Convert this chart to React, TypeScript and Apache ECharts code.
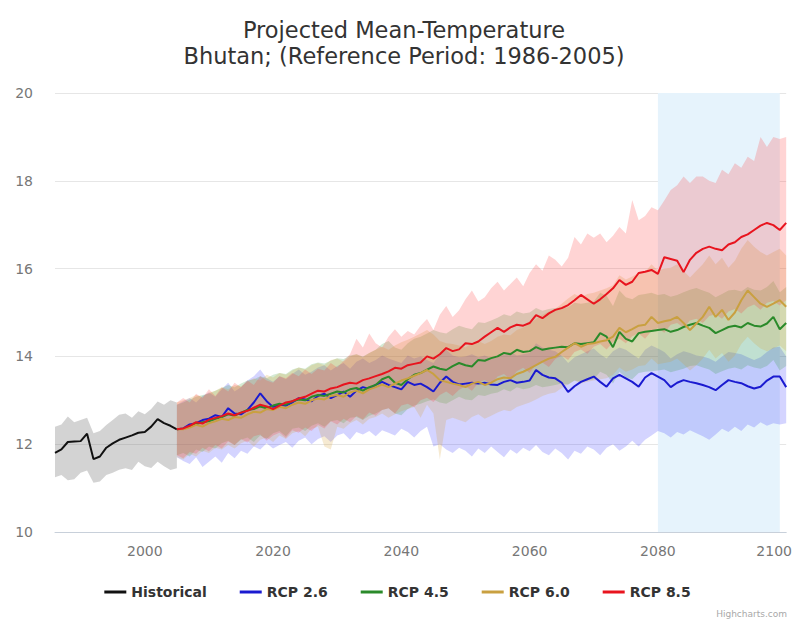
import { useEffect, useRef } from "react";
import * as echarts from "echarts";

// ---------- categories ----------
const FIRST_YEAR = 1986;
const LAST_YEAR = 2100;
const years: string[] = [];
for (let y = FIRST_YEAR; y <= LAST_YEAR; y++) years.push(String(y));

const yTicks = { min: 10, max: 20, step: 2 };
const plotBandYears = ["2080", "2099"];

// ---------- historical 1986-2005 ----------
const HIST_START = 1986;
const historical = [11.80, 11.88, 12.05, 12.06, 12.07, 12.24, 11.66, 11.72, 11.92, 12.02, 12.10, 12.15, 12.20, 12.26, 12.28, 12.40, 12.57, 12.48, 12.42, 12.34];
const historicalLow = [11.25, 11.30, 11.18, 11.20, 11.35, 11.40, 11.12, 11.15, 11.30, 11.35, 11.42, 11.45, 11.41, 11.60, 11.50, 11.46, 11.60, 11.50, 11.41, 11.45];
const historicalHigh = [12.40, 12.45, 12.63, 12.50, 12.55, 12.60, 12.25, 12.30, 12.44, 12.55, 12.67, 12.70, 12.60, 12.75, 12.68, 12.80, 12.97, 12.90, 13.00, 12.95];

// ---------- projections 2005-2100 ----------
const PROJ_START = 2005;

const rcp26 = [
  12.34, 12.36, 12.45, 12.48, 12.55, 12.58, 12.66, 12.62, 12.82, 12.70,
  12.68, 12.78, 12.95, 13.16, 12.98, 12.85, 12.90, 12.88, 12.95, 13.05,
  13.02, 12.98, 13.10, 13.15, 13.05, 13.12, 13.20, 13.08, 13.22, 13.30,
  13.26, 13.35, 13.42, 13.35, 13.30, 13.25, 13.42, 13.35, 13.38, 13.30,
  13.20, 13.40, 13.54, 13.42, 13.36, 13.38, 13.40, 13.38, 13.40, 13.36,
  13.35, 13.42, 13.46, 13.40, 13.42, 13.45, 13.69, 13.58, 13.52, 13.50,
  13.40, 13.19, 13.32, 13.42, 13.48, 13.54, 13.42, 13.31, 13.50, 13.58,
  13.50, 13.42, 13.31, 13.52, 13.62, 13.54, 13.46, 13.30, 13.40, 13.46,
  13.42, 13.39, 13.35, 13.30, 13.23, 13.35, 13.46, 13.42, 13.39, 13.32,
  13.27, 13.31, 13.45, 13.54, 13.54, 13.30,
];
const rcp26Low = [
  11.70, 11.62, 11.55, 11.70, 11.48, 11.60, 11.72, 11.58, 11.80, 11.68,
  11.85, 11.78, 11.95, 11.88, 12.02, 11.90, 11.98, 12.05, 11.92, 12.08,
  12.15, 12.00, 12.12, 12.18, 12.05, 12.20, 12.25, 12.10, 12.28, 12.22,
  12.30, 12.18, 12.32, 12.26, 12.20, 12.35, 12.28, 12.15, 12.30, 12.40,
  11.95, 12.00, 11.88, 11.80, 11.92, 11.85, 11.72, 11.90, 11.80, 11.95,
  11.82, 11.70, 11.88, 11.78, 11.92, 11.84, 11.98, 11.82, 11.75, 11.90,
  11.80, 11.65, 11.85, 11.78, 11.95, 11.88, 11.75, 11.92, 12.00, 11.85,
  11.95, 12.08, 11.95, 12.10, 12.20, 12.30, 12.25, 12.15, 12.28, 12.22,
  12.32, 12.25, 12.18, 12.10, 12.22, 12.35, 12.28, 12.40, 12.30, 12.45,
  12.38, 12.50, 12.42, 12.48, 12.45, 12.48,
];
const rcp26High = [
  12.90, 12.98, 13.05, 12.95, 13.10, 13.18, 13.08, 13.25, 13.40, 13.20,
  13.30, 13.45, 13.55, 13.70, 13.50, 13.42, 13.55, 13.48, 13.60, 13.70,
  13.58, 13.65, 13.75, 13.80, 13.68, 13.78, 13.85, 13.72, 13.88, 13.95,
  13.85, 13.92, 14.02, 13.95, 13.90, 13.85, 14.02, 13.95, 14.00, 13.92,
  13.85, 14.05, 14.15, 14.02, 13.98, 14.00, 14.05, 13.98, 14.02, 13.96,
  13.98, 14.05, 14.10, 14.02, 14.05, 14.08, 14.30, 14.20, 14.15, 14.12,
  14.02, 13.85, 13.98, 14.05, 14.12, 14.18, 14.05, 13.95, 14.12, 14.20,
  14.15, 14.05, 13.95, 14.15, 14.25, 14.18, 14.10, 13.95, 14.05, 14.12,
  14.08, 14.02, 14.00, 13.95, 13.88, 14.00, 14.10, 14.08, 14.05, 13.98,
  13.92, 13.98, 14.10, 14.20, 14.22, 14.00,
];

const rcp45 = [
  12.34, 12.35, 12.40, 12.46, 12.50, 12.52, 12.58, 12.62, 12.68, 12.65,
  12.72, 12.78, 12.80, 12.86, 12.82, 12.88, 12.92, 12.90, 12.98, 13.02,
  13.00, 13.08, 13.12, 13.10, 13.15, 13.20, 13.18, 13.25, 13.28, 13.22,
  13.30, 13.35, 13.48, 13.54, 13.40, 13.35, 13.48, 13.58, 13.62, 13.70,
  13.77, 13.72, 13.69, 13.78, 13.85, 13.80, 13.77, 13.92, 13.90, 13.96,
  14.00, 14.08, 14.05, 14.15, 14.10, 14.12, 14.21, 14.15, 14.18, 14.20,
  14.22, 14.21, 14.30, 14.28, 14.30, 14.32, 14.53, 14.45, 14.21, 14.56,
  14.40, 14.34, 14.53, 14.56, 14.58, 14.60, 14.62, 14.56, 14.60, 14.67,
  14.72, 14.76, 14.70, 14.65, 14.53, 14.60, 14.67, 14.70, 14.66, 14.76,
  14.70, 14.68, 14.75, 14.90, 14.62, 14.76,
];
const rcp45Low = [
  11.75, 11.80, 11.72, 11.88, 11.82, 11.95, 11.90, 12.02, 12.08, 11.98,
  12.10, 12.15, 12.05, 12.20, 12.12, 12.25, 12.30, 12.18, 12.35, 12.38,
  12.30, 12.42, 12.48, 12.40, 12.52, 12.55, 12.48, 12.60, 12.62, 12.55,
  12.65, 12.70, 12.78, 12.82, 12.70, 12.66, 12.80, 12.88, 12.92, 12.98,
  13.02, 12.95, 12.92, 13.00, 13.08, 13.02, 13.00, 13.12, 13.10, 13.15,
  13.18, 13.25, 13.20, 13.30, 13.25, 13.28, 13.35, 13.30, 13.32, 13.35,
  13.38, 13.36, 13.45, 13.42, 13.45, 13.48, 13.65, 13.58, 13.38, 13.65,
  13.52, 13.48, 13.62, 13.65, 13.66, 13.68, 13.70, 13.64, 13.68, 13.72,
  13.78, 13.80, 13.75, 13.70, 13.60, 13.66, 13.72, 13.75, 13.70, 13.80,
  13.75, 13.72, 13.78, 13.92, 13.68, 13.78,
];
const rcp45High = [
  12.90, 12.95, 13.02, 13.08, 13.12, 13.15, 13.22, 13.28, 13.35, 13.30,
  13.38, 13.45, 13.48, 13.55, 13.50, 13.58, 13.62, 13.60, 13.70, 13.75,
  13.72, 13.82, 13.86, 13.84, 13.90, 13.96, 13.94, 14.02, 14.05, 14.00,
  14.08, 14.15, 14.28, 14.35, 14.20, 14.15, 14.30, 14.40, 14.45, 14.52,
  14.60, 14.55, 14.52, 14.62, 14.70, 14.65, 14.62, 14.78, 14.76, 14.82,
  14.88, 14.96, 14.92, 15.02, 14.98, 15.00, 15.10, 15.04, 15.08, 15.10,
  15.12, 15.12, 15.22, 15.20, 15.22, 15.25, 15.45, 15.38, 15.15, 15.50,
  15.35, 15.30, 15.40, 15.42, 15.45, 15.40, 15.42, 15.36, 15.40, 15.46,
  15.52, 15.56, 15.50, 15.45, 15.35, 15.42, 15.50, 15.52, 15.48, 15.58,
  15.52, 15.50, 15.58, 15.72, 15.46, 15.58,
];

const rcp60 = [
  12.34, 12.34, 12.38, 12.44, 12.40, 12.48, 12.52, 12.58, 12.55, 12.62,
  12.60, 12.68, 12.74, 12.72, 12.80, 12.78, 12.85, 12.82, 12.90, 12.95,
  12.92, 13.00, 13.04, 13.02, 13.10, 13.12, 13.08, 13.18, 13.22, 13.16,
  13.25, 13.30, 13.36, 13.30, 13.38, 13.45, 13.50, 13.56, 13.62, 13.69,
  13.60, 13.46, 13.42, 13.38, 13.35, 13.30, 13.38, 13.42, 13.35, 13.40,
  13.48, 13.52, 13.50, 13.60, 13.65, 13.72, 13.80, 13.88, 13.95, 13.99,
  14.10, 14.20, 14.30, 14.22, 14.28, 14.30, 14.34, 14.37, 14.45, 14.65,
  14.55, 14.62, 14.70, 14.72, 14.90, 14.76, 14.80, 14.83, 14.90, 14.76,
  14.60, 14.75, 14.90, 15.13, 14.90, 15.06, 14.83, 15.00, 15.28, 15.50,
  15.35, 15.20, 15.13, 15.20, 15.28, 15.13,
];
const rcp60Low = [
  11.70, 11.65, 11.78, 11.72, 11.85, 11.80, 11.92, 11.88, 11.98, 11.90,
  12.02, 12.08, 11.95, 12.10, 12.15, 12.05, 12.20, 12.12, 12.25, 12.30,
  12.18, 12.35, 12.40, 11.95, 11.88, 12.40, 12.35, 12.48, 12.55, 12.45,
  12.58, 12.62, 12.70, 12.60, 12.68, 12.75, 12.80, 12.85, 12.60, 12.90,
  12.70, 11.65, 12.55, 12.60, 12.55, 12.50, 12.62, 12.68, 12.58, 12.65,
  12.72, 12.78, 12.75, 12.85, 12.90, 12.95, 13.02, 13.10, 13.15, 13.18,
  13.28, 13.36, 13.45, 13.38, 13.42, 13.45, 13.48, 13.50, 13.58, 13.75,
  13.65, 13.70, 13.78, 13.80, 13.95, 13.82, 13.85, 13.88, 13.95, 13.82,
  13.68, 13.80, 13.95, 14.15, 13.95, 14.08, 13.88, 14.02, 14.28, 14.45,
  14.30, 14.18, 14.12, 14.18, 14.25, 14.12,
];
const rcp60High = [
  12.95, 13.00, 13.05, 13.12, 13.08, 13.18, 13.22, 13.30, 13.25, 13.35,
  13.32, 13.42, 13.50, 13.45, 13.58, 13.52, 13.62, 13.58, 13.68, 13.75,
  13.70, 13.80, 13.85, 13.80, 13.92, 13.95, 13.88, 14.00, 14.05, 13.98,
  14.08, 14.15, 14.22, 14.15, 14.25, 14.32, 14.38, 14.45, 14.52, 14.60,
  14.50, 14.35, 14.30, 14.28, 14.25, 14.20, 14.30, 14.35, 14.28, 14.35,
  14.45, 14.50, 14.48, 14.60, 14.66, 14.75, 14.85, 14.95, 15.02, 15.08,
  15.20, 15.32, 15.42, 15.35, 15.42, 15.45, 15.50, 15.55, 15.62, 15.85,
  15.75, 15.82, 15.90, 15.92, 16.10, 15.95, 16.00, 16.02, 16.10, 15.95,
  15.80, 15.95, 16.10, 16.30, 16.10, 16.25, 16.02, 16.18, 16.45, 16.65,
  16.50, 16.38, 16.30, 16.38, 16.45, 16.30,
];

const rcp85 = [
  12.34, 12.36, 12.42, 12.50, 12.47, 12.56, 12.60, 12.64, 12.70, 12.66,
  12.72, 12.76, 12.83, 12.90, 12.86, 12.80, 12.88, 12.95, 12.98, 13.04,
  13.08, 13.15, 13.22, 13.20, 13.27, 13.30, 13.36, 13.40, 13.38, 13.46,
  13.50, 13.55, 13.60, 13.66, 13.74, 13.72, 13.80, 13.83, 13.86, 14.00,
  13.95, 14.05, 14.19, 14.12, 14.16, 14.30, 14.28, 14.34, 14.45, 14.55,
  14.65, 14.56, 14.66, 14.72, 14.70, 14.76, 14.94, 14.87, 14.98, 15.06,
  15.10, 15.17, 15.28, 15.40, 15.30, 15.20, 15.30, 15.42, 15.55, 15.74,
  15.63, 15.70, 15.90, 15.93, 15.97, 15.88, 16.26, 16.22, 16.18, 15.92,
  16.20, 16.36, 16.45, 16.50, 16.45, 16.42, 16.55, 16.60, 16.72, 16.78,
  16.88, 16.98, 17.04, 16.99, 16.88, 17.04,
];
const rcp85Low = [
  11.75, 11.68, 11.82, 11.78, 11.92, 11.84, 11.98, 11.90, 12.06, 11.98,
  12.12, 12.04, 12.18, 12.22, 12.08, 12.20, 12.26, 12.14, 12.32, 12.26,
  12.38, 12.30, 12.44, 12.36, 12.52, 12.45, 12.58, 12.50, 12.64, 12.56,
  12.72, 12.65, 12.78, 12.82, 12.70, 12.88, 12.92, 12.84, 13.00, 13.06,
  12.96, 13.12, 13.20, 13.10, 13.24, 13.32, 13.22, 13.40, 13.46, 13.36,
  13.54, 13.60, 13.48, 13.66, 13.74, 13.62, 13.82, 13.86, 13.76, 13.94,
  14.02, 13.92, 14.10, 14.16, 14.06, 14.22, 14.28, 14.16, 14.32, 14.40,
  14.30, 14.46, 14.52, 14.40, 14.58, 14.64, 14.54, 14.72, 14.76, 14.66,
  14.82, 14.86, 14.76, 14.92, 14.96, 14.86, 15.02, 15.08, 14.98, 15.12,
  15.18, 15.06, 15.22, 15.26, 15.16, 15.28,
];
const rcp85High = [
  12.95, 13.05, 12.95, 13.15, 13.05, 13.25, 13.10, 13.30, 13.20, 13.40,
  13.30, 13.45, 13.35, 13.55, 13.45, 13.40, 13.55, 13.50, 13.62, 13.55,
  13.70, 13.60, 13.72, 13.68, 13.85, 13.75, 13.90, 14.05, 14.40, 14.20,
  14.52, 14.30, 14.20, 14.45, 14.62, 14.45, 14.58, 14.50, 14.70, 14.85,
  14.60, 14.95, 15.15, 14.90, 15.05, 15.30, 15.50, 15.25, 15.35, 15.55,
  15.70, 15.50, 15.65, 15.80, 15.60, 15.90, 16.10, 15.95, 16.30, 16.20,
  16.05, 16.25, 16.72, 16.55, 16.80, 16.70, 16.80, 16.60, 16.75, 16.95,
  16.80, 17.56, 17.10, 17.20, 17.40, 17.33, 17.55, 17.79, 17.90, 18.10,
  17.95, 18.10, 18.10, 18.00, 17.95, 18.25, 18.15, 18.40, 18.30, 18.55,
  18.45, 19.00, 18.77, 19.00, 18.95, 19.00,
];

// ---------- helpers ----------
const place = (start: number, vals: number[]) =>
  years.map((y) => {
    const i = Number(y) - start;
    return i >= 0 && i < vals.length ? vals[i] : null;
  });

const FONT = "DejaVu Sans";

function bandSeries(id: string, start: number, low: number[], high: number[], color: string) {
  const diff = high.map((h, i) => +(h - low[i]).toFixed(3));
  return [
    {
      type: "line",
      name: id + "-low",
      stack: id,
      data: place(start, low),
      symbol: "none",
      lineStyle: { opacity: 0, width: 0 },
      silent: true,
      emphasis: { disabled: true },
      z: 2,
    },
    {
      type: "line",
      name: id + "-range",
      stack: id,
      data: place(start, diff),
      symbol: "none",
      lineStyle: { opacity: 0, width: 0 },
      areaStyle: { color, opacity: 1 },
      silent: true,
      emphasis: { disabled: true },
      z: 2,
    },
  ];
}

function lineSeries(name: string, start: number, vals: number[], color: string, extra: any = {}) {
  return {
    type: "line",
    name,
    data: place(start, vals),
    symbol: "none",
    color,
    lineStyle: { color, width: 2 },
    itemStyle: { color },
    emphasis: { disabled: true },
    z: 3,
    ...extra,
  };
}

export default function App() {
  const ref = useRef<HTMLDivElement>(null);

  useEffect(() => {
    if (!ref.current) return;
    const chart = echarts.init(ref.current, null, { renderer: "svg" });

    const option: any = {
      animation: false,
      backgroundColor: "#ffffff",
      textStyle: { fontFamily: FONT },
      title: [
        {
          text: "Projected Mean-Temperature\nBhutan; (Reference Period: 1986-2005)",
          left: 399,
          top: 12,
          textAlign: "center",
          textStyle: {
            fontFamily: FONT,
            fontSize: 22.5,
            fontWeight: "normal",
            color: "#333333",
            lineHeight: 26,
          },
        },
        {
          text: "Highcharts.com",
          right: 3,
          bottom: 1,
          textStyle: { fontFamily: FONT, fontSize: 9, fontWeight: "normal", color: "#a8a8a8" },
        },
      ],
      legend: {
        data: ["Historical", "RCP 2.6", "RCP 4.5", "RCP 6.0", "RCP 8.5"],
        left: "center",
        top: 580,
        icon: "rect",
        itemWidth: 22,
        itemHeight: 3,
        itemGap: 33,
        textStyle: { fontFamily: FONT, fontSize: 14, fontWeight: "bold", color: "#333333" },
      },
      grid: { left: 55, right: 5, top: 93, bottom: 92 },
      xAxis: {
        type: "category",
        data: years,
        boundaryGap: false,
        axisLine: { lineStyle: { color: "#c8d0da", width: 1 } },
        axisTick: { show: false },
        splitLine: { show: false },
        axisLabel: {
          interval: (_i: number, v: string) => Number(v) % 20 === 0,
          color: "#777777",
          fontSize: 14,
          margin: 12,
          formatter: (v: string) => (v === LAST_YEAR.toString() ? "{last|" + v + "}" : v),
          rich: {
            last: { color: "#777777", fontSize: 14, fontFamily: FONT, padding: [0, 24, 0, 0] },
          },
        },
      },
      yAxis: {
        type: "value",
        min: yTicks.min,
        max: yTicks.max,
        interval: yTicks.step,
        axisLine: { show: false },
        axisTick: { show: false },
        splitLine: { lineStyle: { color: "#e6e6e6", width: 1 } },
        axisLabel: { color: "#777777", fontSize: 14, margin: 22 },
      },
      series: [
        ...bandSeries("hist", HIST_START, historicalLow, historicalHigh, "rgba(110,110,110,0.3)"),
        ...bandSeries("r26", PROJ_START, rcp26Low, rcp26High, "rgba(40,40,255,0.2)"),
        ...bandSeries("r45", PROJ_START, rcp45Low, rcp45High, "rgba(40,150,40,0.2)"),
        ...bandSeries("r60", PROJ_START, rcp60Low, rcp60High, "rgba(215,160,50,0.22)"),
        ...bandSeries("r85", PROJ_START, rcp85Low, rcp85High, "rgba(255,40,40,0.2)"),
        lineSeries("Historical", HIST_START, historical, "#111111", {
          markArea: {
            silent: true,
            z: 1,
            itemStyle: { color: "#e6f3fc" },
            data: [[{ xAxis: plotBandYears[0] }, { xAxis: plotBandYears[1] }]],
          },
        }),
        lineSeries("RCP 2.6", PROJ_START, rcp26, "#1a1ad0"),
        lineSeries("RCP 4.5", PROJ_START, rcp45, "#2a8a2a"),
        lineSeries("RCP 6.0", PROJ_START, rcp60, "#c9a040"),
        lineSeries("RCP 8.5", PROJ_START, rcp85, "#e8141e"),
      ],
    };

    chart.setOption(option);
    return () => chart.dispose();
  }, []);

  return (
    <div
      ref={ref}
      style={{ position: "fixed", left: 0, top: 0, width: 795, height: 624 }}
    />
  );
}
